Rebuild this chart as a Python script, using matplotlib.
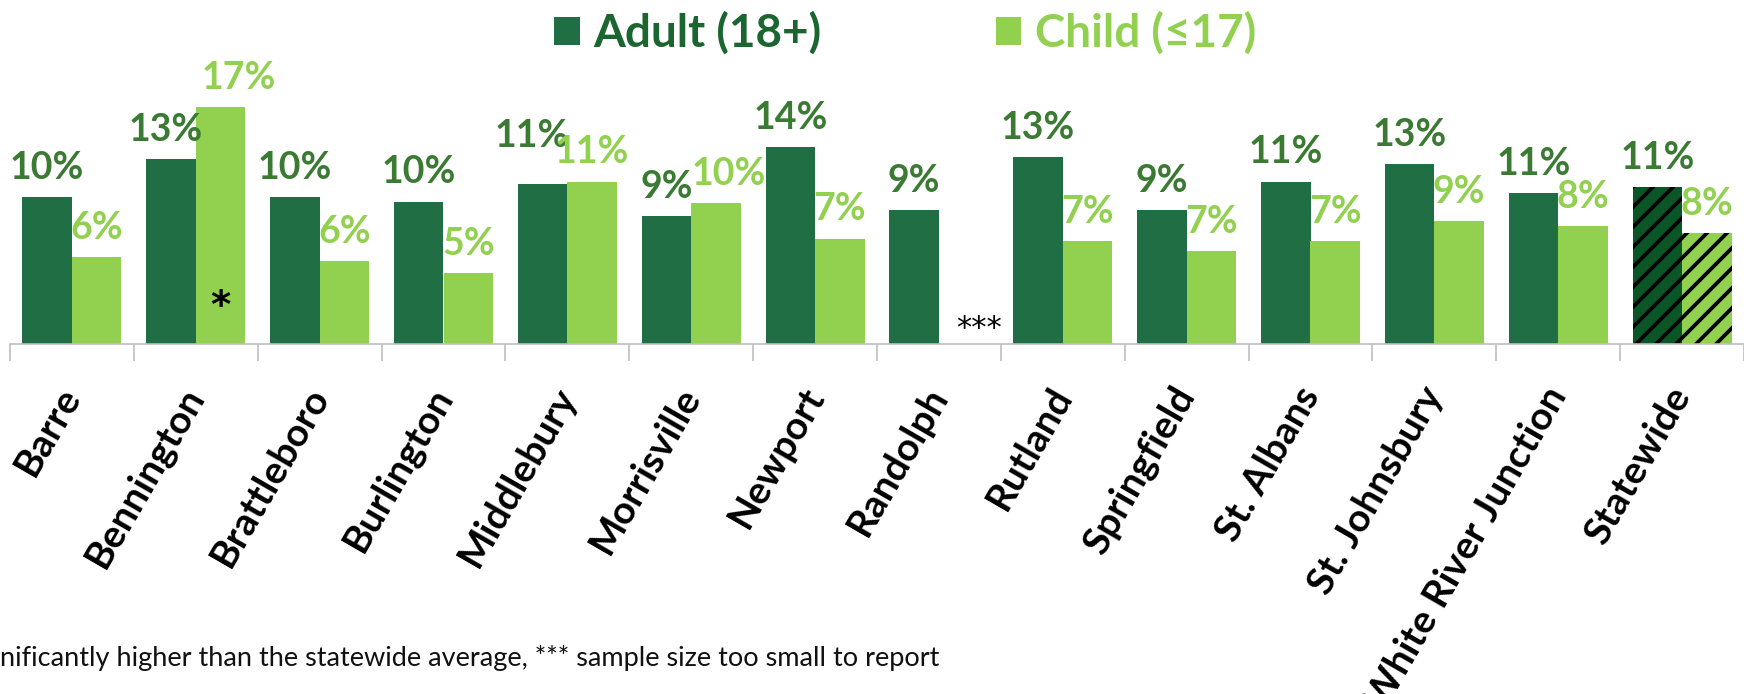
import numpy as np
import matplotlib
matplotlib.use("Agg")
import matplotlib.pyplot as plt
from matplotlib.patches import Patch

# ---- data ----
categories = ["Barre", "Bennington", "Brattleboro", "Burlington", "Middlebury",
              "Morrisville", "Newport", "Randolph", "Rutland", "Springfield",
              "St. Albans", "St. Johnsbury", "White River Junction", "Statewide"]
adult = [10.3, 13.0, 10.3, 10.0, 11.2, 9.0, 13.8, 9.4, 13.1, 9.4, 11.4, 12.6, 10.6, 11.0]
child = [6.1, 16.6, 5.8, 5.0, 11.4, 9.9, 7.4, np.nan, 7.2, 6.5, 7.2, 8.6, 8.3, 7.8]
series_names = ["Adult (18+)", "Child (\u226417)"]
footnote = "nificantly higher than the statewide average, *** sample size too small to report"

# ---- style ----
DPI = 120
S = 100 / DPI          # sizes below are given as if at 100 dpi
plt.rcParams['font.family'] = ['Lato', 'DejaVu Sans']
plt.rcParams['hatch.linewidth'] = 2.7 * S

ADULT = "#206E43"
ADULT_SW = "#0B5626"
CHILD = "#92D050"
ADULT_LBL = "#3A7A33"
ADULT_LEG = "#1B6530"

# label nudges (points, as at 100 dpi) to avoid overlaps like the original
adult_nudge = {1: (-4, 0), 4: (-8, 14)}
child_nudge = {1: (13, 0), 5: (9, 0)}

fig = plt.figure(figsize=(1744 / DPI, 694 / DPI), dpi=DPI)
ax = fig.add_axes([10/1744, 350/694, 1734/1744, 344/694])

x = np.arange(len(categories))
w = 0.4
n = len(categories)
adult_colors = [ADULT]*(n-1) + [ADULT_SW]
bars_a = ax.bar(x - w/2, adult, width=w, color=adult_colors, linewidth=0)
bars_c = ax.bar(x + w/2, np.nan_to_num(child), width=w, color=CHILD, linewidth=0)
for b in (bars_a[-1], bars_c[-1]):
    b.set_hatch('//')
    b.set_edgecolor('black')
    b.set_linewidth(0)

def lbl(v):
    return f"{int(v + 0.5)}%"

for i, (xi, v) in enumerate(zip(x, adult)):
    dx, dy = adult_nudge.get(i, (0, 0))
    ax.annotate(lbl(v), (xi - w/2, v), xytext=(dx*S, (13 + dy)*S), textcoords='offset points',
                ha='center', va='baseline', fontsize=27*S, fontweight='bold', color=ADULT_LBL)
for i, (xi, v) in enumerate(zip(x, child)):
    if np.isnan(v):
        continue
    dx, dy = child_nudge.get(i, (0, 0))
    ax.annotate(lbl(v), (xi + w/2, v), xytext=(dx*S, (13 + dy)*S), textcoords='offset points',
                ha='center', va='baseline', fontsize=27*S, fontweight='bold', color=CHILD)

# annotations
ax.text(1 + w/2, 2.6, "*", ha='center', va='center', fontsize=28*S, fontweight='bold',
        color='black', family=['DejaVu Sans'])
ax.text(7 + 0.32, 1.1, "***", ha='center', va='center', fontsize=22*S,
        color='black', family=['DejaVu Sans'])

ax.set_xlim(-0.5, n - 0.5)
ax.set_ylim(0, 344/14.25)
for s in ['top', 'right', 'left']:
    ax.spines[s].set_visible(False)
ax.spines['bottom'].set_color('#BFBFBF')
ax.spines['bottom'].set_linewidth(1.2*S)
ax.set_yticks([])

ax.set_xticks(np.arange(-0.5, n, 1.0))
ax.set_xticklabels([])
ax.tick_params(axis='x', which='major', length=12*S, width=1.2*S, color='#BFBFBF')
ax.set_xticks(x, minor=True)
ax.set_xticklabels(categories, minor=True, rotation=60, ha='right',
                   rotation_mode='anchor', va='center', fontsize=28*S, fontweight='bold')
ax.tick_params(axis='x', which='minor', length=0, pad=33*S)

handles = [Patch(facecolor=ADULT, edgecolor='none'), Patch(facecolor=CHILD, edgecolor='none')]
leg = fig.legend(handles, series_names, loc='center', bbox_to_anchor=(0.519, 0.952),
                 ncol=2, frameon=False, prop={'size': 33*S, 'weight': 'bold'},
                 handlelength=0.55, handleheight=0.55, handletextpad=0.3, columnspacing=3.8)
for t, c in zip(leg.get_texts(), [ADULT_LEG, CHILD]):
    t.set_color(c)

fig.text(0.0, 1 - 658/694, footnote, ha='left', va='center', fontsize=19.5*S, color='#111111')

fig.savefig("out.png", dpi=DPI)
